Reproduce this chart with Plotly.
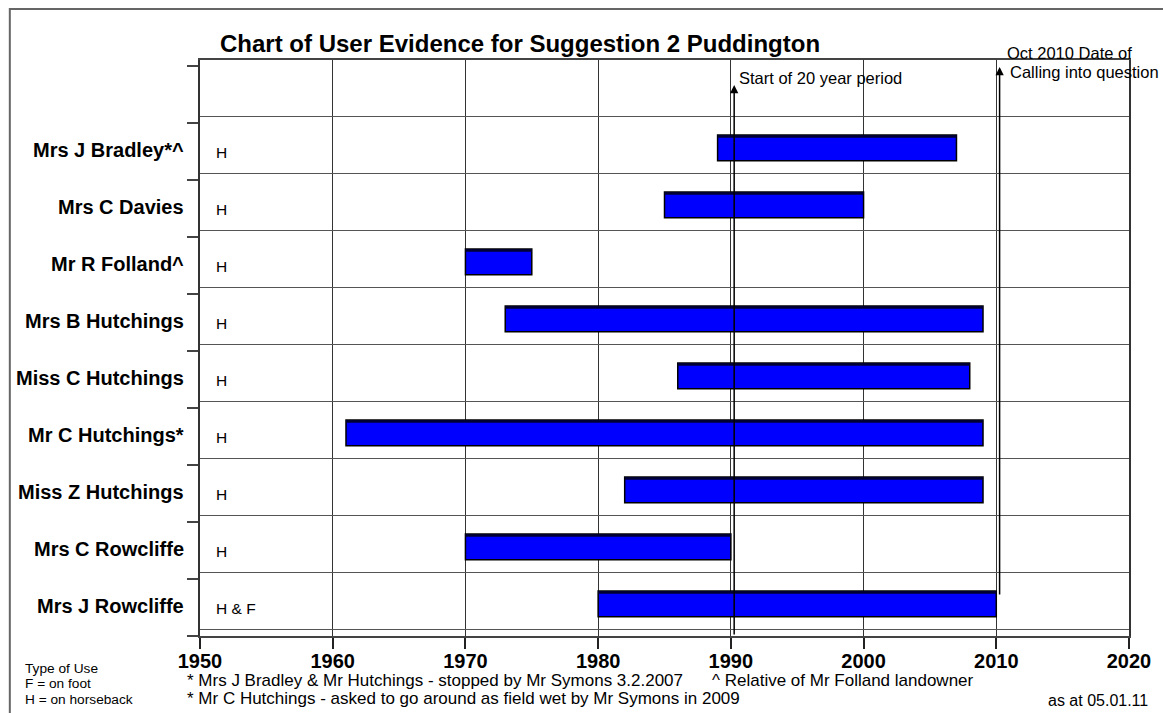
import plotly.graph_objects as go

# ---------------- data ----------------
names = ["Mrs J Bradley*^", "Mrs C Davies", "Mr R Folland^", "Mrs B Hutchings",
         "Miss C Hutchings", "Mr C Hutchings*", "Miss Z Hutchings",
         "Mrs C Rowcliffe", "Mrs J Rowcliffe"]
start_years = [1989, 1985, 1970, 1973, 1986, 1961, 1982, 1970, 1980]
end_years = [2007, 2000, 1975, 2009, 2008, 2009, 2009, 1990, 2010]
use_types = ["H", "H", "H", "H", "H", "H", "H", "H", "H & F"]
x_tick_years = [1950, 1960, 1970, 1980, 1990, 2000, 2010, 2020]
event_years = [1990.25, 2010.25]
event_labels = [["Start of 20 year period"], ["Oct 2010 Date of", "Calling into question"]]
title_text = "Chart of User Evidence for Suggestion 2 Puddington"
footnotes = ["* Mrs J Bradley & Mr Hutchings - stopped by Mr Symons 3.2.2007",
             "* Mr C Hutchings - asked to go around as field wet by Mr Symons in 2009"]
footnote_extra = "^ Relative of Mr Folland landowner"
use_key = ["Type of Use", "F = on foot", "H = on horseback"]
date_note = "as at 05.01.11"

FONT = "Arial, Liberation Sans, sans-serif"
W, H = 1163, 713
ML, MR, MT, MB = 200, 30, 60, 77
PW, PH = W - ML - MR, H - MT - MB


def px(x):
    return (x - ML) / PW


def py(y):
    return (H - MB - y) / PH


rows = list(range(1, len(names) + 1))
durations = [e - s for s, e in zip(start_years, end_years)]

fig = go.Figure()
fig.add_trace(go.Bar(
    y=rows, x=durations, base=start_years, orientation="h",
    width=0.45, offset=-0.167,
    marker=dict(color="#0000FF", line=dict(color="#000000", width=1.5)),
    hoverinfo="skip", showlegend=False,
))
fig.add_trace(go.Bar(
    y=rows, x=durations, base=start_years, orientation="h",
    width=0.05, offset=-0.167,
    marker=dict(color="#000033", line=dict(width=0)),
    hoverinfo="skip", showlegend=False,
))

annotations = []
# title
annotations.append(dict(text="<b>" + title_text + "</b>", xref="paper", yref="paper",
                        x=px(521), y=py(43), xanchor="center", yanchor="middle",
                        showarrow=False, font=dict(family=FONT, size=24, color="black")))
# row labels and use types
for r, n, u in zip(rows, names, use_types):
    annotations.append(dict(text="<b>" + n + "</b>", xref="paper", yref="y",
                            x=0, y=r + 0.105, xanchor="right", yanchor="middle",
                            xshift=-14, showarrow=False,
                            font=dict(family=FONT, size=20, color="black")))
    annotations.append(dict(text=u, xref="x", yref="y", x=x_tick_years[0], y=r,
                            xanchor="left", yanchor="middle", xshift=14, yshift=-8,
                            showarrow=False, font=dict(family=FONT, size=15.5, color="black")))

# event arrows
tips = [85, 67]
tails = [636, 596]
for yr, tip, tail in zip(event_years, tips, tails):
    annotations.append(dict(text="", xref="x", yref="y", x=yr, y=(tip - 87.5) / 57,
                            axref="x", ayref="y", ax=yr, ay=(tail - 87.5) / 57,
                            showarrow=True, arrowhead=2, arrowsize=1.1, arrowwidth=1.5,
                            arrowcolor="black", standoff=0, startstandoff=0))
# event labels
label_pos = [[(3, 77.7)], [(5, 52.7), (8, 71.7)]]
for yr, labs, poss in zip(event_years, event_labels, label_pos):
    for t, (dx, yy) in zip(labs, poss):
        annotations.append(dict(text=t, xref="x", yref="paper", x=yr, y=py(yy),
                                xanchor="left", yanchor="middle", xshift=dx,
                                showarrow=False,
                                font=dict(family=FONT, size=16.5, color="black")))

# footnotes
for t, yy in zip(use_key, [668, 683.5, 699]):
    annotations.append(dict(text=t, xref="paper", yref="paper", x=px(22), y=py(yy),
                            xanchor="left", yanchor="middle", showarrow=False,
                            font=dict(family=FONT, size=13.7, color="black")))
for t, yy in zip(footnotes, [680, 698]):
    annotations.append(dict(text=t, xref="paper", yref="paper", x=px(185), y=py(yy),
                            xanchor="left", yanchor="middle", showarrow=False,
                            font=dict(family=FONT, size=17, color="black")))
annotations.append(dict(text=footnote_extra, xref="paper", yref="paper", x=px(712), y=py(680),
                        xanchor="left", yanchor="middle", showarrow=False,
                        font=dict(family=FONT, size=17, color="black")))
annotations.append(dict(text=date_note, xref="paper", yref="paper", x=px(1154), y=py(700),
                        xanchor="right", yanchor="middle", showarrow=False,
                        font=dict(family=FONT, size=16, color="black")))

shapes = [dict(type="rect", xref="paper", yref="paper",
               x0=px(9), y0=py(9), x1=px(1190), y1=py(740),
               line=dict(color="#666666", width=2), fillcolor="rgba(0,0,0,0)", layer="above")]

y_top = (MT - 87.5) / 57
y_bot = y_top + PH / 57

fig.update_layout(
    width=W, height=H,
    margin=dict(l=ML, r=MR, t=MT, b=MB),
    paper_bgcolor="white", plot_bgcolor="white",
    barmode="overlay", showlegend=False,
    font=dict(family=FONT, color="black"),
    annotations=annotations, shapes=shapes,
    xaxis=dict(range=[1950, 2020], tickvals=x_tick_years,
               ticktext=["<b>%d</b>" % v for v in x_tick_years],
               tickfont=dict(family=FONT, size=20, color="black"),
               ticks="outside", ticklen=11, tickcolor="#222", tickwidth=1.5,
               ticklabelstandoff=-5,
               showgrid=True, gridcolor="#333333", gridwidth=1,
               showline=True, linecolor="#444444", linewidth=1.5, mirror=True,
               zeroline=False, fixedrange=True),
    yaxis=dict(range=[y_bot, y_top], tickvals=[r + 0.5 for r in [0] + rows],
               showticklabels=False, ticks="",
               showgrid=True, gridcolor="#555555", gridwidth=1.2,
               minor=dict(tick0=-0.38, dtick=1, ticks="outside", ticklen=11,
                          tickcolor="#444", tickwidth=1.5, showgrid=False),
               showline=True, linecolor="#333333", linewidth=2, mirror=True,
               zeroline=False, fixedrange=True),
)

fig.write_html("out.html", config={"displayModeBar": False},
               post_script="document.body.style.margin='0';document.body.style.overflow='hidden';")
